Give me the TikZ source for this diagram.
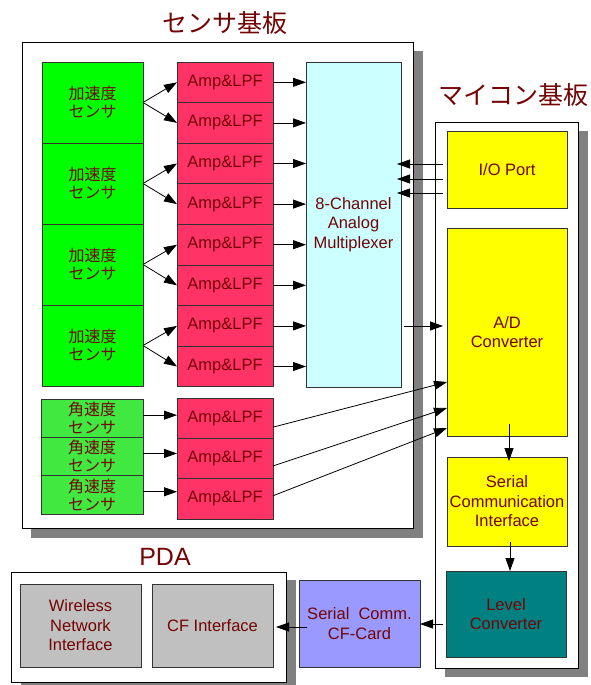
\documentclass[tikz,border=0pt]{standalone}
\usepackage{fontspec}
\setmainfont{Liberation Sans}
\newfontfamily\jp{Noto Sans CJK JP}
\usetikzlibrary{arrows.meta,calc}
\definecolor{txt}{RGB}{115,5,5}
\definecolor{accg}{RGB}{0,255,0}
\definecolor{gyrg}{RGB}{64,232,64}
\definecolor{ampr}{RGB}{255,51,102}
\definecolor{muxc}{RGB}{204,255,255}
\definecolor{yel}{RGB}{255,255,0}
\definecolor{teal2}{RGB}{0,128,128}
\definecolor{gry}{RGB}{192,192,192}
\definecolor{lav}{RGB}{153,153,255}
\definecolor{shad}{RGB}{128,128,128}
\begin{document}
\begin{tikzpicture}[x=1pt,y=-1pt,
  blk/.style={draw=black!80,line width=0.7pt,inner sep=0pt,outer sep=0pt,anchor=north west,
    align=center,text=txt,font=\fontsize{16.5}{19.5}\selectfont},
  jpblk/.style={blk,font=\jp\fontsize{16}{18}\selectfont},
  board/.style={draw=black,line width=0.9pt,fill=white},
  shadowbox/.style={fill=shad,draw=none},
  ttl/.style={text=txt,inner sep=0pt},
  arr/.style={line width=0.8pt,-{Triangle[length=13pt,width=9pt]}},
]
\useasboundingbox (0,0) rectangle (591,685);
\fill[white] (0,0) rectangle (591,685);
% boards
\fill[shadowbox] (31,51) rectangle (423,538);
\draw[board] (22,42) rectangle (413,528);
\fill[shadowbox] (445,131) rectangle (588,677);
\draw[board] (435,122) rectangle (578,668);
\fill[shadowbox] (21,580) rectangle (296,690);
\draw[board] (11,572) rectangle (286,682);
% titles
\node[ttl,font=\jp\fontsize{25}{25}\selectfont] (t1) at (225,23) {センサ基板};
\node[ttl,font=\jp\fontsize{25}{25}\selectfont] (t2) at (513,95) {マイコン基板};
\node[ttl,font=\fontsize{25}{25}\selectfont] (t3) at (165,557) {PDA};
% accel sensors
\foreach \i in {1,...,4}{
  \node[jpblk,fill=accg,minimum width=101pt,minimum height=81pt] (a\i) at (42,{62+81*(\i-1)}) {加速度\\センサ};
}
\foreach \j in {1,...,8}{
  \node[blk,fill=ampr,minimum width=96pt,minimum height=40.6pt] (p\j) at (177,{62+40.6*(\j-1)}) {Amp\&LPF};
}
\foreach \k in {1,2,3}{
  \node[jpblk,fill=gyrg,minimum width=102pt,minimum height=38.3pt] (g\k) at (41,{399+38.3*(\k-1)}) {角速度\\センサ};
  \node[blk,fill=ampr,minimum width=96pt,minimum height=40.3pt] (q\k) at (177,{398+40.3*(\k-1)}) {Amp\&LPF};
}
\node[blk,fill=muxc,minimum width=95pt,minimum height=325pt] (mux) at (306,62) {8-Channel\\Analog\\Multiplexer};
\node[blk,fill=yel,minimum width=120pt,minimum height=77pt] (io) at (447,131) {I/O Port};
\node[blk,fill=yel,minimum width=120pt,minimum height=208pt] (ad) at (447,228) {A/D\\Converter};
\node[blk,fill=yel,minimum width=120pt,minimum height=89pt] (sci) at (447,457) {Serial\\Communication\\Interface};
\node[blk,fill=teal2,minimum width=120pt,minimum height=86pt] (lv) at (446,571) {Level\\Converter};
\node[blk,fill=lav,minimum width=121pt,minimum height=87pt] (scf) at (299,580) {Serial\ \ Comm.\\CF-Card};
\node[blk,fill=gry,minimum width=121pt,minimum height=83pt] (cfi) at (152,584) {CF Interface};
\node[blk,fill=gry,minimum width=121pt,minimum height=83pt] (wni) at (20,584) {Wireless\\Network\\Interface};
% sensor -> amp
\foreach \i/\a/\b in {1/1/2,2/3/4,3/5/6,4/7/8}{
  \draw[arr] (a\i.east) -- (p\a.west);
  \draw[arr] (a\i.east) -- (p\b.west);
}
\foreach \j in {1,...,8}{
  \draw[arr] (p\j.east) -- (p\j.east -| mux.west);
}
% gyro -> amp
\foreach \k in {1,2,3}{
  \draw[arr] ([yshift=3pt]g\k.east) -- ([yshift=3pt]g\k.east -| q\k.west);
}
% gyro amps -> A/D
\draw[arr] ([yshift=-9pt]q1.east) -- ([yshift=-50pt]ad.west);
\draw[arr] ([yshift=-7.5pt]q2.east) -- ([yshift=-76pt]ad.west);
\draw[arr] ([yshift=3pt]q3.east) -- ([yshift=-96pt]ad.west);
% io -> mux
\foreach \s in {5.5,-9.5,-23.5}{
  \draw[arr] ([yshift=\s pt,xshift=-4pt]io.west) -- ([yshift=\s pt,xshift=-4pt]io.west -| mux.east);
}
% mux -> ad
\coordinate (adin) at ([yshift=6pt,xshift=-4pt]ad.west);
\draw[arr] ($(adin -| mux.east)+(3,0)$) -- (adin);
% ad -> sci -> level
\draw[arr] ([xshift=2pt,yshift=12pt]ad.south) -- ([xshift=2pt,yshift=-4pt]sci.north);
\draw[arr] ([xshift=3pt,yshift=4pt]sci.south) -- ([xshift=4pt]lv.north);
% level -> scf -> cfi
\draw[arr] ([xshift=-3pt,yshift=-10pt]lv.west) -- ([yshift=-10pt]lv.west -| scf.east);
\coordinate (scfo) at ([xshift=8pt,yshift=-3.5pt]scf.west);
\draw[arr] (scfo) -- ($(scfo -| cfi.east)+(3,0)$);
\end{tikzpicture}
\end{document}
